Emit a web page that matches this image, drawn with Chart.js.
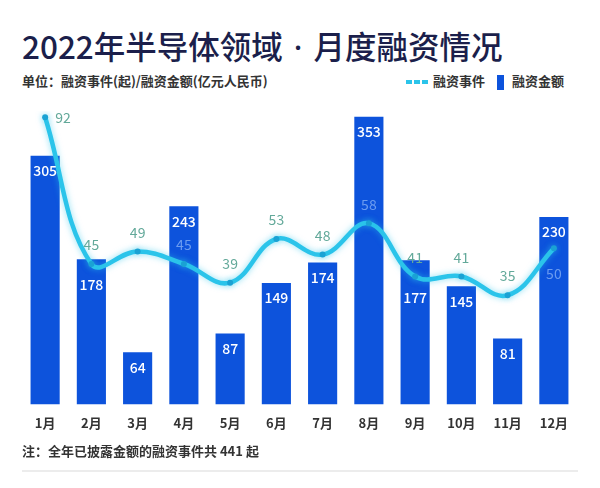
<!DOCTYPE html>
<html>
<head>
<meta charset="utf-8">
<script src="https://cdn.jsdelivr.net/npm/chart.js@4.4.1/dist/chart.umd.min.js"></script>
<style>
  body { margin: 0; background: #fff; font-family: "Noto Sans CJK SC", "Noto Sans", sans-serif; }
  #page { position: relative; width: 600px; height: 488px; overflow: hidden; }
  .title { position: absolute; left: 22px; top: 22px; font-size: 31.5px; font-weight: 500; color: #1b1f4b; white-space: nowrap; }
  .title .dot { font-family: "Noto Sans", sans-serif; margin: 0 11px; }
  .unit { position: absolute; left: 22px; top: 71px; font-size: 13px; font-weight: 700; color: #333; }
  .legend { position: absolute; left: 406px; top: 71px; font-size: 13px; font-weight: 700; color: #333; white-space: nowrap; }
  .legend .ln { display: inline-block; width: 22px; height: 4px; vertical-align: middle; margin-right: 5px;
    background: repeating-linear-gradient(90deg, #2bc4ea 0 6px, transparent 6px 8px); }
  .legend .bx { display: inline-block; width: 7px; height: 15px; background: #0d53dc; vertical-align: middle; margin: 0 8px 0 12px; }
  .note { position: absolute; left: 22px; top: 441px; font-size: 13px; font-weight: 700; color: #333; }
  .rule { position: absolute; left: 22px; top: 470px; width: 556px; height: 2px; background: #ececec; }
  #chart { position: absolute; left: 0; top: 100px; }
</style>
</head>
<body>
<div id="page">
  <div class="title">2022年半导体领域<span class="dot">·</span>月度融资情况</div>
  <div class="unit">单位：融资事件(起)/融资金额(亿元人民币)</div>
  <div class="legend"><span class="ln"></span>融资事件<span class="bx"></span>融资金额</div>
  <canvas id="chart" width="600" height="348"></canvas>
  <div class="note">注：全年已披露金额的融资事件共 441 起</div>
  <div class="rule"></div>
</div>
<script>
const months = ["1月", "2月", "3月", "4月", "5月", "6月", "7月", "8月", "9月", "10月", "11月", "12月"];
const amounts = [305, 178, 64, 243, 87, 149, 174, 353, 177, 145, 81, 230];   // 融资金额
const events = [92, 45, 49, 45, 39, 53, 48, 58, 41, 41, 35, 50];             // 融资事件

const lineColor = "#2bc4ea";
const barColor = "#0d53dc";

// glow under the line + value labels for both series
const labelPlugin = {
  id: "labels",
  beforeDatasetDraw(chart, args) {
    if (args.index === 0) {
      chart.ctx.save();
      chart.ctx.shadowColor = "rgba(43,196,234,0.55)";
      chart.ctx.shadowBlur = 6;
    }
  },
  afterDatasetDraw(chart, args) {
    if (args.index === 0) chart.ctx.restore();
  },
  afterDatasetsDraw(chart) {
    const ctx = chart.ctx;
    const lineMeta = chart.getDatasetMeta(0);
    const barMeta = chart.getDatasetMeta(1);
    ctx.save();
    ctx.textBaseline = "middle";

    // bar labels (white, inside the top of the bar, pushed below the line when it crosses there)
    ctx.font = "500 14px 'Noto Sans CJK SC', 'Noto Sans', sans-serif";
    ctx.fillStyle = "#fff";
    ctx.textAlign = "center";
    barMeta.data.forEach((bar, i) => {
      const pt = lineMeta.data[i];
      let y = bar.y + 15;
      if (pt.y > bar.y - 5 && pt.y < bar.y + 30) y = pt.y + 21;
      ctx.fillText(amounts[i], bar.x, y);
    });

    // line labels
    ctx.font = "400 14px 'Noto Sans CJK SC', 'Noto Sans', sans-serif";
    lineMeta.data.forEach((pt, i) => {
      let x = pt.x, y = pt.y - 19;
      ctx.textAlign = "center";
      if (i === 0) { x = pt.x + 10; y = pt.y; ctx.textAlign = "left"; }
      if (i === events.length - 1) { y = pt.y + 25; }
      const bar = barMeta.data[i];
      const onBar = y > bar.y && Math.abs(x - bar.x) < bar.width / 2;
      ctx.fillStyle = onBar ? "#6c9cf0" : "#63a99a";
      ctx.fillText(events[i], x, y);
    });
    ctx.restore();
  }
};

new Chart(document.getElementById("chart"), {
  data: {
    labels: months,
    datasets: [
      {
        type: "line",
        label: "融资事件",
        data: events,
        yAxisID: "y1",
        order: 0,
        borderColor: lineColor,
        borderWidth: 4.5,
        tension: 0.4,
        pointRadius: 3,
        pointBackgroundColor: "#1aa2d4",
        pointBorderWidth: 0
      },
      {
        type: "bar",
        label: "融资金额",
        data: amounts,
        yAxisID: "y",
        order: 1,
        backgroundColor: barColor,
        barPercentage: 0.63,
        categoryPercentage: 1
      }
    ]
  },
  options: {
    responsive: false,
    devicePixelRatio: 1,
    animation: false,
    layout: { padding: { left: 22, right: 23, top: 11, bottom: 14 } },
    plugins: { legend: { display: false }, tooltip: { enabled: false } },
    scales: {
      x: {
        grid: { display: false },
        border: { display: false },
        ticks: {
          padding: 3,
          color: "#333",
          font: { family: "'Noto Sans CJK SC', 'Noto Sans', sans-serif", size: 13, weight: "bold" }
        }
      },
      y: { display: false, min: 0, max: 360 },
      y1: { display: false, min: 0, max: 94 }
    }
  },
  plugins: [labelPlugin]
});
</script>
</body>
</html>
